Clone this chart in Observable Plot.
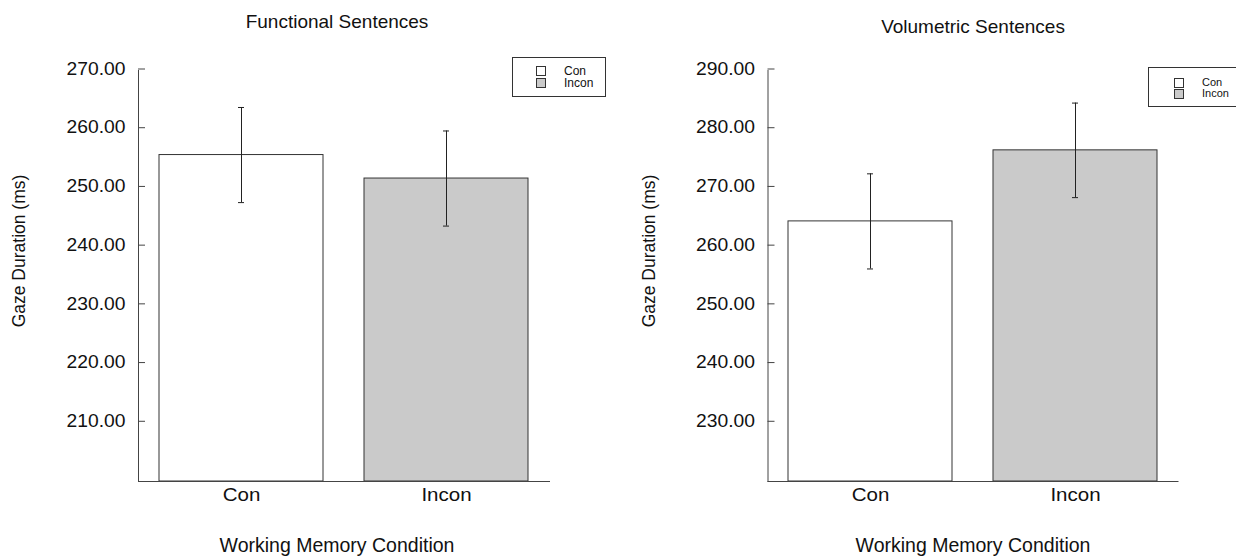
<!DOCTYPE html>
<html>
<head>
<meta charset="utf-8">
<script src="https://cdn.jsdelivr.net/npm/d3@7"></script>
<script src="https://cdn.jsdelivr.net/npm/@observablehq/plot@0.6"></script>
<style>
  html, body { margin: 0; padding: 0; background: #fff; }
  body { width: 1236px; height: 558px; overflow: hidden; font-family: "Liberation Sans", Arial, Helvetica, sans-serif; }
  #fig { position: relative; width: 1236px; height: 558px; }
  .panel { position: absolute; top: 0; }
  .legend { position: absolute; border: 1px solid #333; background: #fff; box-sizing: border-box; color: #111; }
  .legend .row { position: absolute; display: flex; align-items: center; }
  .legend .sw { width: 8px; height: 8px; border: 1px solid #333; margin-right: 18px; }
</style>
</head>
<body>
<div id="fig"></div>
<script>
// ---- data ----
const categories = ["Con", "Incon"];
const functionalMeans = [255.6, 251.6];
const functionalErrors = [8.1, 8.1];
const volumetricMeans = [264.3, 276.4];
const volumetricErrors = [8.1, 8.05];
const functionalDomain = [200, 270];
const volumetricDomain = [220, 290];
const functionalTicks = [210, 220, 230, 240, 250, 260, 270];
const volumetricTicks = [230, 240, 250, 260, 270, 280, 290];
const barFills = ["#ffffff", "#cacaca"];
const titles = ["Functional Sentences", "Volumetric Sentences"];
const yLabel = "Gaze Duration (ms)";
const xLabel = "Working Memory Condition";

const fig = document.getElementById("fig");
const fontFamily = '"Liberation Sans", Arial, Helvetica, sans-serif';

function stretch(svg, sel, k) {
  svg.querySelectorAll(sel).forEach(t => {
    const L = t.getComputedTextLength();
    t.setAttribute("textLength", (L * k).toFixed(2));
    t.setAttribute("lengthAdjust", "spacingAndGlyphs");
  });
}

function panel({means, errors, domain, ticks, title, left, marginLeft, marginRight, titleDy, titleDx, yLabelDx, yLabelDy}) {
  const data = categories.map((c, i) => ({cat: c, mean: means[i], se: errors[i], fill: barFills[i]}));
  const base = domain[0];
  const chart = Plot.plot({
    width: 618,
    height: 558,
    marginLeft,
    marginRight,
    marginTop: 70,
    marginBottom: 77,
    style: {fontFamily, background: "transparent", color: "#111"},
    x: {domain: categories, paddingInner: 0.2, paddingOuter: 0.1, label: null},
    y: {domain, label: null},
    marks: [
      Plot.barY(data, {x: "cat", y1: () => base, y2: "mean", fill: "fill", stroke: "#333", strokeWidth: 1}),
      Plot.ruleX(data, {x: "cat", y1: d => d.mean - d.se, y2: d => d.mean + d.se, stroke: "#222", strokeWidth: 1}),
      Plot.tickY(data, {x: "cat", y: d => d.mean - d.se, stroke: "#222", insetLeft: 79, insetRight: 79}),
      Plot.tickY(data, {x: "cat", y: d => d.mean + d.se, stroke: "#222", insetLeft: 79, insetRight: 79}),
      Plot.frame({anchor: "left", stroke: "#444"}),
      Plot.frame({anchor: "bottom", stroke: "#444"}),
      Plot.axisY({ticks, tickSize: -7, tickPadding: 20, dy: -1.5, tickFormat: d3.format(".2f"), fontSize: 18, stroke: "#444", label: null}),
      Plot.axisX({tickSize: 0, tickPadding: 6, fontSize: 19, label: null}),
      Plot.text([title], {ariaLabel: "chart-title", frameAnchor: "top", lineAnchor: "middle", textAnchor: "middle", dy: titleDy, dx: titleDx, fontSize: 19, fill: "#111"}),
      Plot.text([xLabel], {ariaLabel: "x-label", frameAnchor: "bottom", lineAnchor: "middle", textAnchor: "middle", dy: 64, dx: titleDx, fontSize: 19.5, fill: "#111"}),
      Plot.text([yLabel], {ariaLabel: "y-label", frameAnchor: "left", lineAnchor: "middle", textAnchor: "middle", rotate: -90, dx: yLabelDx, dy: yLabelDy, fontSize: 17.5, fill: "#111"})
    ]
  });
  chart.classList.add("panel");
  chart.style.left = left + "px";
  fig.appendChild(chart);
  stretch(chart, 'g[aria-label="chart-title"] text', 1.08);
  stretch(chart, 'g[aria-label="x-label"] text', 1.03);
  stretch(chart, 'g[aria-label="x-axis tick label"] text', 1.08);
  stretch(chart, 'g[aria-label="y-axis tick label"] text', 1.07);
}

panel({means: functionalMeans, errors: functionalErrors, domain: functionalDomain, ticks: functionalTicks,
  title: titles[0], left: 0, marginLeft: 138, marginRight: 69, titleDy: -49, titleDx: -7, yLabelDx: -119, yLabelDy: -25});
panel({means: volumetricMeans, errors: volumetricErrors, domain: volumetricDomain, ticks: volumetricTicks,
  title: titles[1], left: 618, marginLeft: 149.5, marginRight: 58.5, titleDy: -44, titleDx: 0, yLabelDx: -118.5, yLabelDy: -25});

function legend(x, y, w, h, opts) {
  const box = document.createElement("div");
  box.className = "legend";
  Object.assign(box.style, {left: x + "px", top: y + "px", width: w + "px", height: h + "px", fontSize: opts.font + "px"});
  categories.forEach((c, i) => {
    const r = document.createElement("div");
    r.className = "row";
    Object.assign(r.style, {left: opts.swX + "px", top: (opts.y0 + i * opts.dy) + "px", height: opts.dy + "px", lineHeight: opts.dy + "px"});
    const sw = document.createElement("div");
    sw.className = "sw";
    sw.style.background = barFills[i];
    const lab = document.createElement("span");
    lab.textContent = c;
    r.appendChild(sw); r.appendChild(lab);
    box.appendChild(r);
  });
  fig.appendChild(box);
}
legend(512, 57, 94, 40, {swX: 23, y0: 7, dy: 12.3, font: 12});
legend(1148, 67, 94, 40, {swX: 25, y0: 9, dy: 11, font: 11});
</script>
</body>
</html>
